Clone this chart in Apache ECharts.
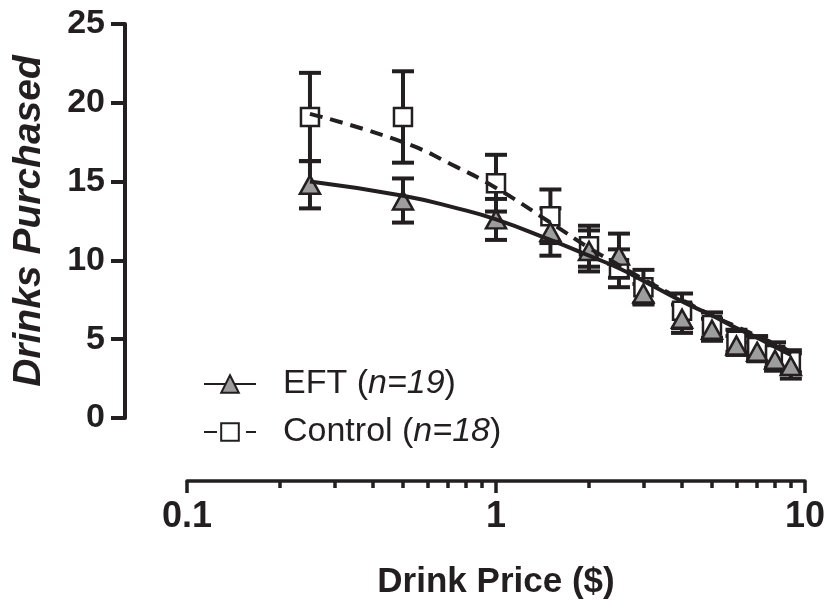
<!DOCTYPE html>
<html>
<head>
<meta charset="utf-8">
<title>Drinks Purchased</title>
<script src="https://cdn.jsdelivr.net/npm/echarts@6/dist/echarts.min.js"></script>
</head>
<body style="margin:0;background:#fff;">
	<div id="main" style="width: 832px; height: 608px;"></div>

	<script type="text/javascript">
		// data
		var price = [0.25, 0.5, 1, 1.5, 2, 2.5, 3, 4, 5, 6, 7, 8, 9];
		var eftMean = [14.8, 13.8, 12.6, 11.8, 10.6, 10.3, 7.9, 6.3, 5.6, 4.6, 4.2, 3.7, 3.3];
		var eftSem = [1.5, 1.4, 1.3, 1.5, 1.3, 1.4, 0.6, 0.9, 0.7, 0.6, 0.6, 0.7, 0.8];
		var ctrlMean = [19.1, 19.1, 14.9, 12.8, 10.9, 9.5, 8.3, 6.8, 5.9, 4.9, 4.5, 4.0, 3.6];
		var ctrlSem = [2.8, 2.9, 1.8, 1.7, 1.3, 1.2, 1.1, 1.1, 0.8, 0.7, 0.7, 0.8, 0.7];

		// fitted demand curves, read at these prices
		var fitPrice = [0.25, 0.5, 0.75, 1, 1.5, 2, 2.5, 3, 4, 5, 6, 7, 8, 9];
		var eftFit = [15.0, 14.1, 13.3, 12.6, 11.3, 10.3, 9.5, 8.7, 7.4, 6.5, 5.7, 5.1, 4.5, 4.0];
		var ctrlFit = [19.3, 17.5, 15.9, 14.6, 12.4, 10.8, 9.7, 8.8, 7.5, 6.5, 5.8, 5.2, 4.7, 4.2];

		var groupNames = ['EFT', 'Control'];
		var groupN = [19, 18];

		var ink = '#231f20';
		var font = 'Liberation Sans';

		function pairs(xs, ys) {
			return xs.map(function (x, i) { return [x, ys[i]]; });
		}
		function triples(xs, ys, es) {
			return xs.map(function (x, i) { return [x, ys[i], es[i]]; });
		}

		function errorBars(params, api) {
			var x = api.value(0), m = api.value(1), s = api.value(2);
			var hi = api.coord([x, m + s]);
			var lo = api.coord([x, m - s]);
			var w = 11;
			var st = { stroke: ink, lineWidth: 4 };
			return {
				type: 'group',
				children: [
					{ type: 'line', shape: { x1: hi[0], y1: hi[1], x2: lo[0], y2: lo[1] }, style: st },
					{ type: 'line', shape: { x1: hi[0] - w, y1: hi[1], x2: hi[0] + w, y2: hi[1] }, style: st },
					{ type: 'line', shape: { x1: lo[0] - w, y1: lo[1], x2: lo[0] + w, y2: lo[1] }, style: st }
				]
			};
		}

		var myChart = echarts.init(document.getElementById('main'));

		var option = {
			animation: false,
			grid: { left: 187, right: 27, top: 24, bottom: 190 },
			legend: {
				data: groupNames,
				orient: 'vertical',
				left: 198,
				top: 362,
				itemWidth: 52,
				itemHeight: 22,
				itemGap: 14,
				formatter: function (name) {
					var n = groupN[groupNames.indexOf(name)];
					return '{t|' + name + ' (}{i|n=' + n + '}{t|)}';
				},
				textStyle: {
					color: ink,
					fontFamily: font,
					fontSize: 34,
					padding: [0, 0, 0, 22],
					rich: {
						t: { fontFamily: font, fontSize: 34, color: ink, lineHeight: 40 },
						i: { fontFamily: font, fontSize: 34, color: ink, fontStyle: 'italic', lineHeight: 40 }
					}
				}
			},
			xAxis: {
				type: 'log',
				logBase: 10,
				min: 0.1,
				max: 10,
				offset: 63,
				name: 'Drink Price ($)',
				nameLocation: 'middle',
				nameGap: 84,
				nameTextStyle: { color: ink, fontFamily: font, fontSize: 35, fontWeight: 'bold' },
				axisLine: { onZero: false, lineStyle: { color: ink, width: 3.5 } },
				axisTick: { length: 12, lineStyle: { color: ink, width: 3.5 } },
				minorTick: { show: true, splitNumber: 9, length: 7, lineStyle: { color: ink, width: 3.5 } },
				axisLabel: {
					color: ink, fontFamily: font, fontSize: 36, fontWeight: 'bold', margin: 18,
					formatter: function (v) { return String(v); }
				},
				splitLine: { show: false }
			},
			yAxis: {
				type: 'value',
				min: 0,
				max: 25,
				interval: 5,
				offset: 62,
				name: 'Drinks Purchased',
				nameLocation: 'middle',
				nameGap: 76,
				nameTextStyle: { color: ink, fontFamily: font, fontSize: 39, fontWeight: 'bold', fontStyle: 'italic' },
				axisLine: { show: true, onZero: false, lineStyle: { color: ink, width: 4 } },
				axisTick: { show: true, length: 14, lineStyle: { color: ink, width: 4 } },
				axisLabel: { color: ink, fontFamily: font, fontSize: 34, fontWeight: 'bold', margin: 20 },
				splitLine: { show: false }
			},
			series: [
				{
					name: 'EFT err', type: 'custom', renderItem: errorBars, z: 2,
					data: triples(price, eftMean, eftSem), encode: { x: 0, y: 1 }
				},
				{
					name: 'Control err', type: 'custom', renderItem: errorBars, z: 2,
					data: triples(price, ctrlMean, ctrlSem), encode: { x: 0, y: 1 }
				},
				{
					name: 'Control pts', type: 'scatter', z: 3,
					symbol: 'rect', symbolSize: 18,
					itemStyle: { color: '#fff', borderColor: ink, borderWidth: 2.5, opacity: 1 },
					data: pairs(price, ctrlMean)
				},
				{
					name: 'EFT pts', type: 'scatter', z: 4,
					symbol: 'triangle', symbolSize: [20, 18],
					itemStyle: { color: '#9d9d9d', borderColor: ink, borderWidth: 2.5, opacity: 1 },
					data: pairs(price, eftMean)
				},
				{
					name: 'EFT', type: 'line', z: 5, smooth: true,
					symbol: 'triangle', showSymbol: false,
					itemStyle: { color: '#9d9d9d', borderColor: ink, borderWidth: 2 },
					lineStyle: { color: ink, width: 4, type: 'solid' },
					data: pairs(fitPrice, eftFit)
				},
				{
					name: 'Control', type: 'line', z: 5, smooth: true,
					symbol: 'rect', showSymbol: false,
					itemStyle: { color: '#fff', borderColor: ink, borderWidth: 2 },
					lineStyle: { color: ink, width: 4, type: [13, 8] },
					data: pairs(fitPrice, ctrlFit)
				}
			]
		};

		myChart.setOption(option);
	</script>
</body>
</html>
